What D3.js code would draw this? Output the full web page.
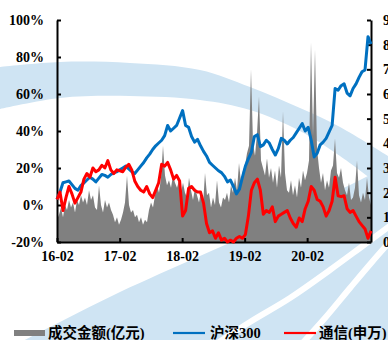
<!DOCTYPE html>
<html><head><meta charset="utf-8">
<script src="https://cdn.jsdelivr.net/npm/d3@7"></script>
<style>
html,body{margin:0;padding:0;background:#fff;overflow:hidden;}
svg{display:block;}
</style></head><body>
<svg id="c" width="388" height="340"></svg>
<script>
// ---------------- data ----------------
const startDate = "2016-02-01";
const endDate = "2021-02-08";
const xTickLabels = ["16-02","17-02","18-02","19-02","20-02"];
const leftTicks = [-20,0,20,40,60,80,100];
const rightTicks = [0,100,200,300,400,500,600,700,800,900];
const seriesNames = ["成交金额(亿元)","沪深300","通信(申万)"];

// 成交金额(亿元), right axis
const turnover = [
 90,110,140,100, 150,130,170,140, 160,120,170,150, 190,160,180,150,
 210,170,190,140, 130,230,150,120, 170,140,160,130, 110,80,100,70,
 90,120,160,270, 150,120,130,100, 110,80,100,70, 90,80,130,160,
 140,190,230,200, 260,390,270,230, 250,220,270,240, 220,250,200,240,
 200,180,260,210, 170,220,190,160, 210,150,280,190, 200,140,180,150,
 250,160,140,180, 170,200,160,230, 200,260,210,320, 240,290,310,360,
 390,700,400,350, 440,590,330,300, 270,340,260,300, 240,290,220,310,
 260,530,280,210, 200,250,190,230, 180,260,220,290, 250,280,330,810,
 430,780,380,300, 240,280,210,250, 220,290,310,420, 280,260,300,240,
 210,190,240,170, 180,220,330,190, 160,200,170,260, 180,150
];
// 沪深300 cumulative change (%), left axis
const hs300 = [
 3,7,12,12.5,13,11,9,8,10.5,12,13.5,15,14,12.5,14.5,16.5,16,15,16.5,17.5,
 18,19,20,21,19.5,18,17,19,21,23,25.5,27.5,30,32,33.5,35,37.5,43,40,41.5,
 43,47,51,43,42,37,34,35.5,32,29,26.5,23,21.5,20,18.5,17.5,15.5,12.5,13.5,10,
 6,8.5,15,21,25,28.5,37,38,31.5,32.5,35,33.5,30,27,30.5,36,35,33,35,36.5,
 39,41.5,44,40,42,35,26,28,32.5,34,36,39.5,43,63,62,64.5,65.5,60.5,59,63,
 65.5,69,72,73,91,87
];
// 通信(申万) cumulative change (%), left axis
const telecom = [
 3,7,-3,4,10,6,1,4,7,14,17,15,20,18,19,21.5,20,24,19,17,
 19,18.5,18,20.5,22,19,13,10,8,7,10,6,4,8,12,22,21,23,19,14,
 16,13,-6,-3,9,10,8,7,7,1,-10,-15,-14,-18,-15,-19,-18,-20,-19,-20,
 -18,-17,-18,-16,-6,8,12,14,8,-5,-3,-4,-1,-9,-6,-5,-4,-3,-7,-10,
 -12,-7,-9,-2,2,10,8,3,2,-1,-6,-3,2,15,5,4.5,5,-2,-4,-3,
 -6,-9,-11,-13,-18,-14
];

// ---------------- layout ----------------
const svg = d3.select("#c");
const plot = {left:57, right:371, top:20, bottom:242};
const parse = d3.timeParse("%Y-%m-%d");
const t0 = parse(startDate), t1 = parse(endDate);
const x = d3.scaleTime().domain([t0,t1]).range([plot.left, plot.right]);
const yL = d3.scaleLinear().domain([-20,100]).range([plot.bottom, plot.top]);
const yR = d3.scaleLinear().domain([0,900]).range([plot.bottom, plot.top]);
const dateAt = (i, n) => new Date(+t0 + (t1 - t0) * i / (n - 1));

// ---------------- watermark background ----------------
const wm = svg.append("g");
const smooth = d3.line().curve(d3.curveCatmullRom);
const bandTop = [[0,67],[60,62],[130,63],[200,70],[250,87],[300,108],[340,127],[388,156]];
const bandBot = [[388,192],[340,156],[300,131],[250,110],[200,100],[130,96],[60,98],[0,109]];
wm.append("path").attr("d", smooth(bandTop) + "L" + smooth(bandBot).slice(1) + "Z")
  .attr("fill", "#cfe4f3");
const swoosh = [[15,345],[60,322],[120,292],[200,256],[280,220],[340,190],[388,166]];
wm.append("path").attr("d", smooth(swoosh) + "L388,345Z").attr("fill", "#cfe4f3");
wm.append("path").attr("d", smooth([[210,348],[250,322],[290,298],[330,270],[360,248],[395,222]]))
  .attr("fill","none").attr("stroke","#fff").attr("stroke-width",6);
wm.append("path").attr("d", smooth([[298,348],[325,318],[350,288],[372,262],[395,236]]))
  .attr("fill","none").attr("stroke","#fff").attr("stroke-width",6);

// ---------------- gray area ----------------
const area = d3.area()
  .x((d,i) => x(dateAt(i, turnover.length)))
  .y0(yR(0)).y1(d => yR(d));
svg.append("path").datum(turnover).attr("d", area).attr("fill", "#808080");

// ---------------- axes ----------------
const font = "'Liberation Serif','Times New Roman',serif";
const xTicks = xTickLabels.map(s => d3.timeParse("%y-%m")(s));
const gx = svg.append("g").attr("transform", `translate(0,${plot.bottom})`)
  .call(d3.axisBottom(x).tickValues(xTicks).tickFormat(d3.timeFormat("%y-%m")).tickSizeInner(-4).tickSizeOuter(0).tickPadding(9));
const gl = svg.append("g").attr("transform", `translate(${plot.left},0)`)
  .call(d3.axisLeft(yL).tickValues(leftTicks).tickFormat(d => d + "%").tickSizeInner(-4).tickSizeOuter(0).tickPadding(13));
const gr = svg.append("g").attr("transform", `translate(${plot.right},0)`)
  .call(d3.axisRight(yR).tickValues(rightTicks).tickFormat(d3.format("d")).tickSizeInner(-4).tickSizeOuter(0).tickPadding(12));
[gx, gl, gr].forEach(g => {
  g.select(".domain").attr("stroke", "#000").attr("stroke-width", 2);
  g.selectAll(".tick line").attr("stroke", "#000").attr("stroke-width", 2);
  g.selectAll("text").attr("font-family", font).attr("font-weight", "bold")
    .attr("font-size", 14).attr("fill", "#000");
});

// ---------------- lines ----------------
const lineOf = arr => d3.line()
  .x((d,i) => x(dateAt(i, arr.length)))
  .y(d => yL(d));
svg.append("path").datum(hs300).attr("d", lineOf(hs300))
  .attr("fill","none").attr("stroke","#0070C0").attr("stroke-width",3).attr("stroke-linejoin","round");
svg.append("path").datum(telecom).attr("d", lineOf(telecom))
  .attr("fill","none").attr("stroke","#FF0000").attr("stroke-width",3).attr("stroke-linejoin","round");

// ---------------- legend ----------------
const lf = "'Liberation Serif','Noto Sans CJK SC',serif";
const leg = svg.append("g");
const legItems = [
  {name: seriesNames[0], type:"rect", color:"#808080", x:14, tx:48},
  {name: seriesNames[1], type:"line", color:"#0070C0", x:173, tx:210},
  {name: seriesNames[2], type:"line", color:"#FF0000", x:284, tx:319}
];
legItems.forEach(it => {
  if (it.type === "rect") {
    leg.append("rect").attr("x", it.x).attr("y", 330).attr("width", 31).attr("height", 6).attr("fill", it.color);
  } else {
    leg.append("line").attr("x1", it.x).attr("x2", it.x + 32).attr("y1", 333).attr("y2", 333)
      .attr("stroke", it.color).attr("stroke-width", 2.2);
  }
  leg.append("text").attr("x", it.tx).attr("y", 338).text(it.name)
    .attr("font-family", lf).attr("font-weight", "bold").attr("font-size", 14.5).attr("fill", "#000");
});
</script>
</body></html>
